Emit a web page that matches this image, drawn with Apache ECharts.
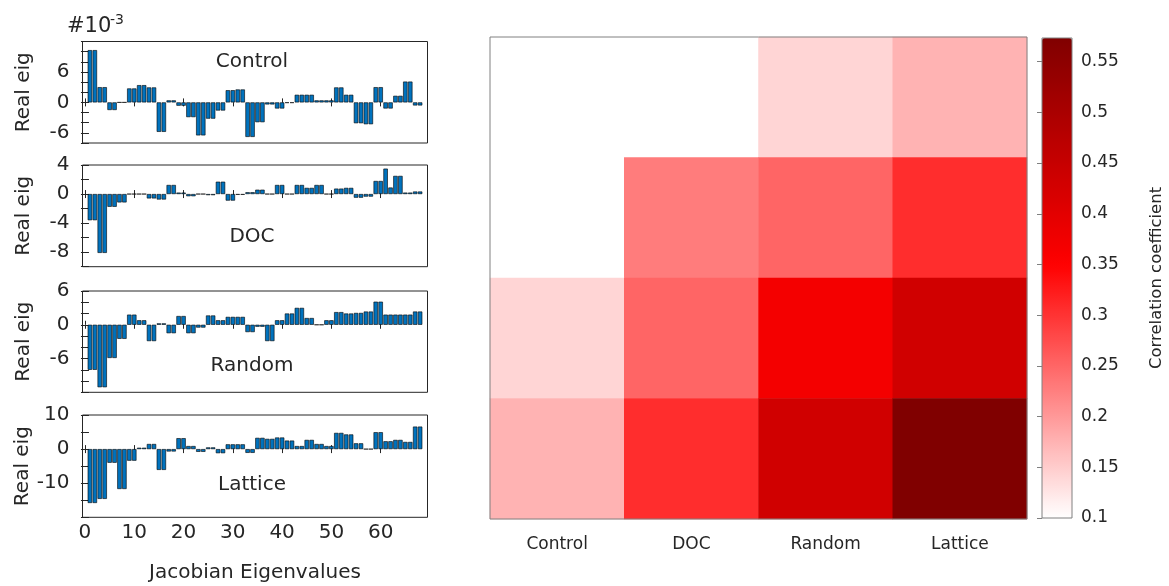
<!DOCTYPE html>
<html>
<head>
<meta charset="utf-8">
<title>Jacobian eigenvalues / correlation</title>
<script src="https://cdn.jsdelivr.net/npm/echarts@6/dist/echarts.min.js"></script>
<style>
  html, body { margin: 0; padding: 0; background: #fff; }
  #main { width: 1169px; height: 586px; }
</style>
</head>
<body>
<div id="main"></div>
<script type="text/javascript">
// Real part of the Jacobian eigenvalues, units of 1e-3
var controlEig = [
  10.3, 10.3, 3.0, 3.0, -1.5, -1.5, 0, 0, 2.75, 2.75,
  3.4, 3.4, 2.95, 2.95, -5.8, -5.8, 0.4, 0.4, -0.65, -0.65,
  -2.9, -2.9, -6.5, -6.5, -3.2, -3.2, -1.6, -1.6, 2.4, 2.4,
  2.55, 2.55, -6.8, -6.8, -3.9, -3.9, -0.4, -0.4, -1.2, -1.2,
  -0.1, -0.1, 1.5, 1.5, 1.5, 1.5, 0.4, 0.4, 0.4, 0.4,
  2.95, 2.95, 1.5, 1.5, -4.1, -4.1, -4.3, -4.3, 3.0, 3.0,
  -1.2, -1.2, 1.3, 1.3, 4.1, 4.1, -0.6, -0.6
];
var docEig = [
  -3.6, -3.6, -8.1, -8.1, -1.75, -1.75, -1.15, -1.15, 0, 0,
  0, 0, -0.6, -0.6, -0.75, -0.75, 1.25, 1.25, 0.2, 0.2,
  -0.3, -0.3, 0, 0, -0.15, -0.15, 1.7, 1.7, -0.9, -0.9,
  -0.1, -0.1, 0.25, 0.25, 0.6, 0.6, 0, 0, 1.25, 1.25,
  0, 0, 1.25, 1.25, 0.85, 0.85, 1.25, 1.25, 0, 0,
  0.75, 0.75, 0.85, 0.85, -0.5, -0.5, -0.35, -0.35, 1.8, 1.8,
  3.5, 0.9, 2.5, 2.5, 0.2, 0.2, 0.35, 0.35
];
var randomEig = [
  -8.0, -8.0, -11.1, -11.1, -5.9, -5.9, -2.5, -2.5, 1.8, 1.8,
  0.8, 0.8, -2.9, -2.9, 0.25, 0.25, -1.5, -1.5, 1.55, 1.55,
  -1.5, -1.5, -0.5, -0.5, 1.65, 1.65, 0.8, 0.8, 1.4, 1.4,
  1.4, 1.4, -1.3, -1.3, -0.35, -0.35, -2.9, -2.9, 0.8, 0.8,
  2.0, 2.0, 3.0, 3.0, 1.2, 1.2, 0, 0, 0.8, 0.8,
  2.25, 2.25, 2.0, 2.0, 2.1, 2.1, 2.35, 2.35, 4.1, 4.1,
  1.8, 1.8, 1.8, 1.8, 1.8, 1.8, 2.35, 2.35
];
var latticeEig = [
  -15.8, -15.8, -14.6, -14.6, -4.0, -4.0, -11.7, -11.7, -3.4, -3.4,
  0.4, 0.4, 1.5, 1.5, -6.1, -6.1, -0.7, -0.7, 3.2, 3.2,
  0.9, 0.9, -0.8, -0.8, 0.5, 0.5, -1.2, -1.2, 1.4, 1.4,
  1.4, 1.4, -1.1, -1.1, 3.3, 3.3, 3.0, 3.0, 3.4, 3.4,
  2.5, 2.5, 0.9, 0.9, 2.7, 2.7, 1.5, 1.5, 0.9, 0.9,
  4.75, 4.75, 4.3, 4.3, 1.7, 1.7, 0, 0, 4.95, 4.95,
  2.3, 2.3, 2.7, 2.7, 2.1, 2.1, 6.6, 6.6
];

// labelled y ticks of each small panel
var controlTicks = [-6, 0, 6];
var docTicks = [-8, -4, 0, 4];
var randomTicks = [-6, 0, 6];
var latticeTicks = [-10, 0, 10];
var eigTickLabels = [0, 10, 20, 30, 40, 50, 60];

// correlation matrix (rows top to bottom, columns left to right)
var groups = ['Control', 'DOC', 'Random', 'Lattice'];
var corrControl = [0.10, 0.10, 0.141, 0.175];
var corrDOC = [0.10, 0.228, 0.251, 0.306];
var corrRandom = [0.141, 0.251, 0.368, 0.433];
var corrLattice = [0.175, 0.306, 0.433, 0.573];
var corrMin = 0.1, corrMax = 0.5733;

var FONT = 'DejaVu Sans';
var INK = '#262626';

// white -> red -> dark red, pure red sitting at 0.35
function redMap(n, redAt) {
  var f = (redAt - corrMin) / (corrMax - corrMin), out = [];
  for (var i = 0; i <= n; i++) {
    var t = i / n, r, g;
    if (t <= f) { r = 255; g = Math.round(255 * (1 - t / f)); }
    else { r = Math.round(255 - 127 * (t - f) / (1 - f)); g = 0; }
    out.push('rgb(' + r + ',' + g + ',' + g + ')');
  }
  return out;
}

var panels = [
  { name: 'Control', data: controlEig, ticks: controlTicks, min: -8, max: 12, step: 2, top: 41.5, height: 101.5 },
  { name: 'DOC', data: docEig, ticks: docTicks, min: -10, max: 4, step: 2, top: 165, height: 101.7 },
  { name: 'Random', data: randomEig, ticks: randomTicks, min: -12, max: 6, step: 2, top: 291, height: 101.3 },
  { name: 'Lattice', data: latticeEig, ticks: latticeTicks, min: -20, max: 10, step: 5, top: 415, height: 102.3 }
];
var titleY = [62, 237, 366, 484.5];

var grid = [], xAxis = [], yAxis = [], series = [], graphic = [];

panels.forEach(function (p, i) {
  var last = i === panels.length - 1;
  grid.push({ left: 82.5, width: 345, top: p.top, height: p.height, show: true,
    borderColor: INK, borderWidth: 1, z: 5 });
  ['bottom', 'top'].forEach(function (pos) {
    var lab = last && pos === 'bottom';
    xAxis.push({
      gridIndex: i, type: 'value', position: pos, min: -0.5, max: 69.5,
      axisLine: { show: false }, splitLine: { show: false },
      axisTick: { inside: true, length: 4, customValues: eigTickLabels, lineStyle: { color: INK } },
      axisLabel: { show: lab, customValues: eigTickLabels, fontFamily: FONT, fontSize: 20, color: INK, margin: 5 },
      name: lab ? 'Jacobian Eigenvalues' : '', nameLocation: 'middle', nameGap: 45,
      nameTextStyle: { fontFamily: FONT, fontSize: 20, color: INK }
    });
  });
  ['left', 'right'].forEach(function (pos) {
    var lab = pos === 'left';
    yAxis.push({
      gridIndex: i, type: 'value', position: pos, min: p.min, max: p.max, interval: p.step,
      axisLine: { show: false }, splitLine: { show: false },
      axisTick: { inside: true, length: 4, lineStyle: { color: INK } },
      axisLabel: {
        show: lab, fontFamily: FONT, fontSize: 20, color: INK, margin: 13,
        formatter: function (v) { return p.ticks.indexOf(v) >= 0 ? String(v) : ''; }
      },
      name: lab ? 'Real eig' : '', nameLocation: 'middle', nameGap: 49,
      nameTextStyle: { fontFamily: FONT, fontSize: 20, color: INK }
    });
  });
  series.push({
    type: 'bar', name: p.name, xAxisIndex: i * 2, yAxisIndex: i * 2,
    data: p.data.map(function (v, k) { return [k + 1, v]; }),
    barWidth: 4.4,
    itemStyle: { color: '#0072BD', borderColor: '#000', borderWidth: 0.6 }
  });
  graphic.push({
    type: 'text', x: 252, y: titleY[i],
    style: { text: p.name, font: '20px "DejaVu Sans"', fill: INK, textAlign: 'center', textVerticalAlign: 'middle' }
  });
});

// exponent label of the top panel
graphic.push({ type: 'text', x: 67, y: 27,
  style: { text: '#10', font: '21px "DejaVu Sans"', fill: INK, textAlign: 'left', textVerticalAlign: 'middle' } });
graphic.push({ type: 'text', x: 110, y: 20,
  style: { text: '-3', font: '14px "DejaVu Sans"', fill: INK, textAlign: 'left', textVerticalAlign: 'middle' } });

// heatmap
var hm = 4;
grid.push({ left: 490, top: 37, width: 537, height: 482, show: true, borderColor: '#808080', borderWidth: 1, z: 5 });
['bottom', 'top'].forEach(function (pos) {
  xAxis.push({
    gridIndex: hm, type: 'category', data: groups, position: pos,
    axisLine: { show: false }, splitLine: { show: false },
    axisTick: { inside: true, alignWithLabel: true, length: 5, lineStyle: { color: '#808080' } },
    axisLabel: { show: pos === 'bottom', fontFamily: FONT, fontSize: 17, color: INK, margin: 17 },
    z: 6
  });
});
['left', 'right'].forEach(function (pos) {
  yAxis.push({
    gridIndex: hm, type: 'category', data: groups, inverse: true, position: pos,
    axisLine: { show: false }, splitLine: { show: false },
    axisTick: { inside: true, alignWithLabel: true, length: 5, lineStyle: { color: '#808080' } },
    axisLabel: { show: false },
    z: 6
  });
});
var corrRows = [corrControl, corrDOC, corrRandom, corrLattice];
var cells = [];
corrRows.forEach(function (row, r) {
  row.forEach(function (v, c) { cells.push([c, r, v]); });
});
series.push({ type: 'heatmap', xAxisIndex: 8, yAxisIndex: 8, data: cells, label: { show: false } });

// colorbar axis
grid.push({ left: 1042, top: 38, width: 30, height: 480, show: true, borderColor: '#808080', borderWidth: 1, z: 10 });
xAxis.push({ gridIndex: 5, type: 'value', show: false, min: 0, max: 1 });
yAxis.push({
  gridIndex: 5, type: 'value', position: 'right', min: corrMin, max: corrMax, interval: 0.05, z: 10,
  axisLine: { show: false }, splitLine: { show: false },
  axisTick: { inside: true, length: 5, lineStyle: { color: '#808080' } },
  axisLabel: { fontFamily: FONT, fontSize: 17, color: INK, margin: 9, showMaxLabel: false,
    formatter: function (v) { return String(Math.round(v * 100) / 100); } },
  name: 'Correlation coefficient', nameLocation: 'middle', nameRotate: 90, nameGap: 76,
  nameTextStyle: { fontFamily: FONT, fontSize: 16.5, color: INK }
});

var myChart = echarts.init(document.getElementById('main'));
var option = {
  animation: false,
  backgroundColor: '#fff',
  grid: grid,
  xAxis: xAxis,
  yAxis: yAxis,
  visualMap: {
    type: 'continuous', seriesIndex: 4, min: corrMin, max: corrMax,
    left: 1042, top: 38, itemWidth: 30, itemHeight: 480, padding: 0,
    calculable: false, text: null, showLabel: false, hoverLink: false,
    inRange: { color: redMap(40, 0.35) }
  },
  graphic: graphic,
  series: series
};
myChart.setOption(option);
</script>
</body>
</html>
